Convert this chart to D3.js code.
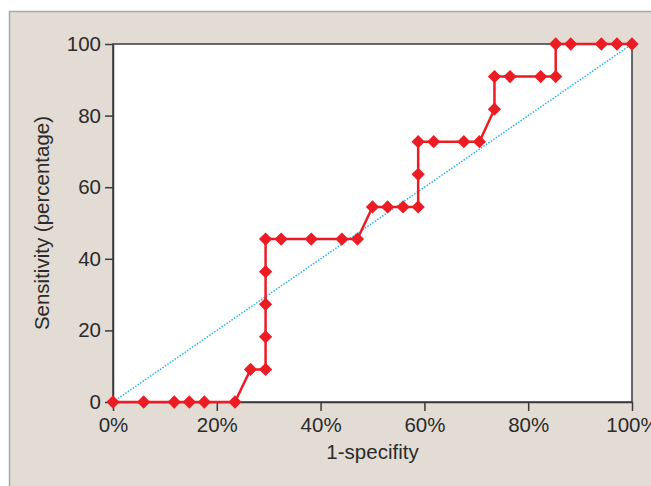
<!DOCTYPE html>
<html>
<head>
<meta charset="utf-8">
<script src="https://cdn.jsdelivr.net/npm/d3@7"></script>
<style>
    body { margin: 0; background: #ffffff; }
    svg { display: block; font-family: "Liberation Sans", Arial, sans-serif; }
</style>
</head>
<body>
<div id="chart"></div>
<script>
// ROC curve: 1-specificity (%) vs sensitivity (%)

const specX = [0, 5.9, 11.8, 14.7, 17.6, 23.5, 26.5, 29.4, 29.4, 29.4, 29.4, 29.4,
    32.4, 38.2, 44.1, 47.1, 50.0, 52.9, 55.9, 58.8, 58.8, 58.8, 61.8, 67.6, 70.6,
    73.5, 73.5, 76.5, 82.4, 85.3, 85.3, 88.2, 94.1, 97.1, 100];
const sensY = [0, 0, 0, 0, 0, 0, 9.1, 9.1, 18.2, 27.3, 36.4, 45.5,
    45.5, 45.5, 45.5, 45.5, 54.5, 54.5, 54.5, 54.5, 63.6, 72.7, 72.7, 72.7, 72.7,
    81.8, 90.9, 90.9, 90.9, 90.9, 100, 100, 100, 100, 100];
const xTicks = [0, 20, 40, 60, 80, 100];
const yTicks = [0, 20, 40, 60, 80, 100];
const refLine = [0, 100];

const width = 651, height = 486;
const margin = { left: 113, right: 19, top: 44, bottom: 84 };

let svg = d3.select("#chart")
    .append("svg")
    .attr("width", width)
    .attr("height", height);

// beige panel
svg.append("rect")
    .attr("x", 9.5)
    .attr("y", 11.5)
    .attr("width", width)
    .attr("height", height)
    .attr("fill", "#e2dcd5")
    .attr("stroke", "#a9a9a9")
    .attr("stroke-width", 1.5);

let x = d3.scaleLinear()
    .domain([0, 100])
    .range([margin.left, width - margin.right]);

let y = d3.scaleLinear()
    .domain([0, 100])
    .range([height - margin.bottom, margin.top]);

svg.append("rect")
    .attr("x", x(0))
    .attr("y", y(100))
    .attr("width", x(100) - x(0))
    .attr("height", y(0) - y(100))
    .attr("fill", "#ffffff")
    .attr("stroke", "#3a3a3a")
    .attr("stroke-width", 1.5);

let xAxis = d3.axisBottom(x)
    .tickValues(xTicks)
    .tickFormat(d => d + "%")
    .tickSize(9)
    .tickSizeOuter(0)
    .tickPadding(6);

let yAxis = d3.axisLeft(y)
    .tickValues(yTicks)
    .tickSize(8)
    .tickSizeOuter(0)
    .tickPadding(4);

let gx = svg.append("g")
    .attr("transform", "translate(0," + y(0) + ")")
    .call(xAxis);

let gy = svg.append("g")
    .attr("transform", "translate(" + x(0) + ",0)")
    .call(yAxis);

[gx, gy].forEach(g => {
    g.select(".domain").attr("stroke", "#3a3a3a").attr("stroke-width", 1.5);
    g.selectAll(".tick line").attr("stroke", "#3a3a3a").attr("stroke-width", 1.5);
    g.selectAll(".tick text")
        .attr("fill", "#2b2b2b")
        .style("font-size", "20.5px")
        .style("font-family", "'Liberation Sans', Arial, sans-serif");
});

// chance diagonal
svg.append("line")
    .attr("x1", x(refLine[0]))
    .attr("y1", y(refLine[0]))
    .attr("x2", x(refLine[1]))
    .attr("y2", y(refLine[1]))
    .attr("stroke", "#27b4e8")
    .attr("stroke-width", 1.5)
    .attr("stroke-dasharray", "1.5,1.5");

let points = specX.map((d, i) => ({ fpr: d, tpr: sensY[i] }));

let line = d3.line()
    .x(d => x(d.fpr))
    .y(d => y(d.tpr));

svg.append("path")
    .datum(points)
    .attr("fill", "none")
    .attr("stroke", "#ec1c24")
    .attr("stroke-width", 2.5)
    .attr("d", line);

// square diamonds (a square turned 45 degrees)
svg.selectAll(".marker")
    .data(points)
    .enter()
    .append("path")
    .attr("class", "marker")
    .attr("transform", d => "translate(" + x(d.fpr) + "," + y(d.tpr) + ") rotate(45)")
    .attr("d", d3.symbol().type(d3.symbolSquare).size(88))
    .attr("fill", "#ec1c24");

// axis titles
svg.append("text")
    .attr("x", (x(0) + x(100)) / 2)
    .attr("y", 459)
    .attr("text-anchor", "middle")
    .attr("fill", "#2b2b2b")
    .style("font-size", "20.5px")
    .text("1-specifity");

svg.append("text")
    .attr("transform", "translate(49," + (y(0) + y(100)) / 2 + ") rotate(-90)")
    .attr("text-anchor", "middle")
    .attr("fill", "#2b2b2b")
    .style("font-size", "20.5px")
    .text("Sensitivity (percentage)");
</script>
</body>
</html>
